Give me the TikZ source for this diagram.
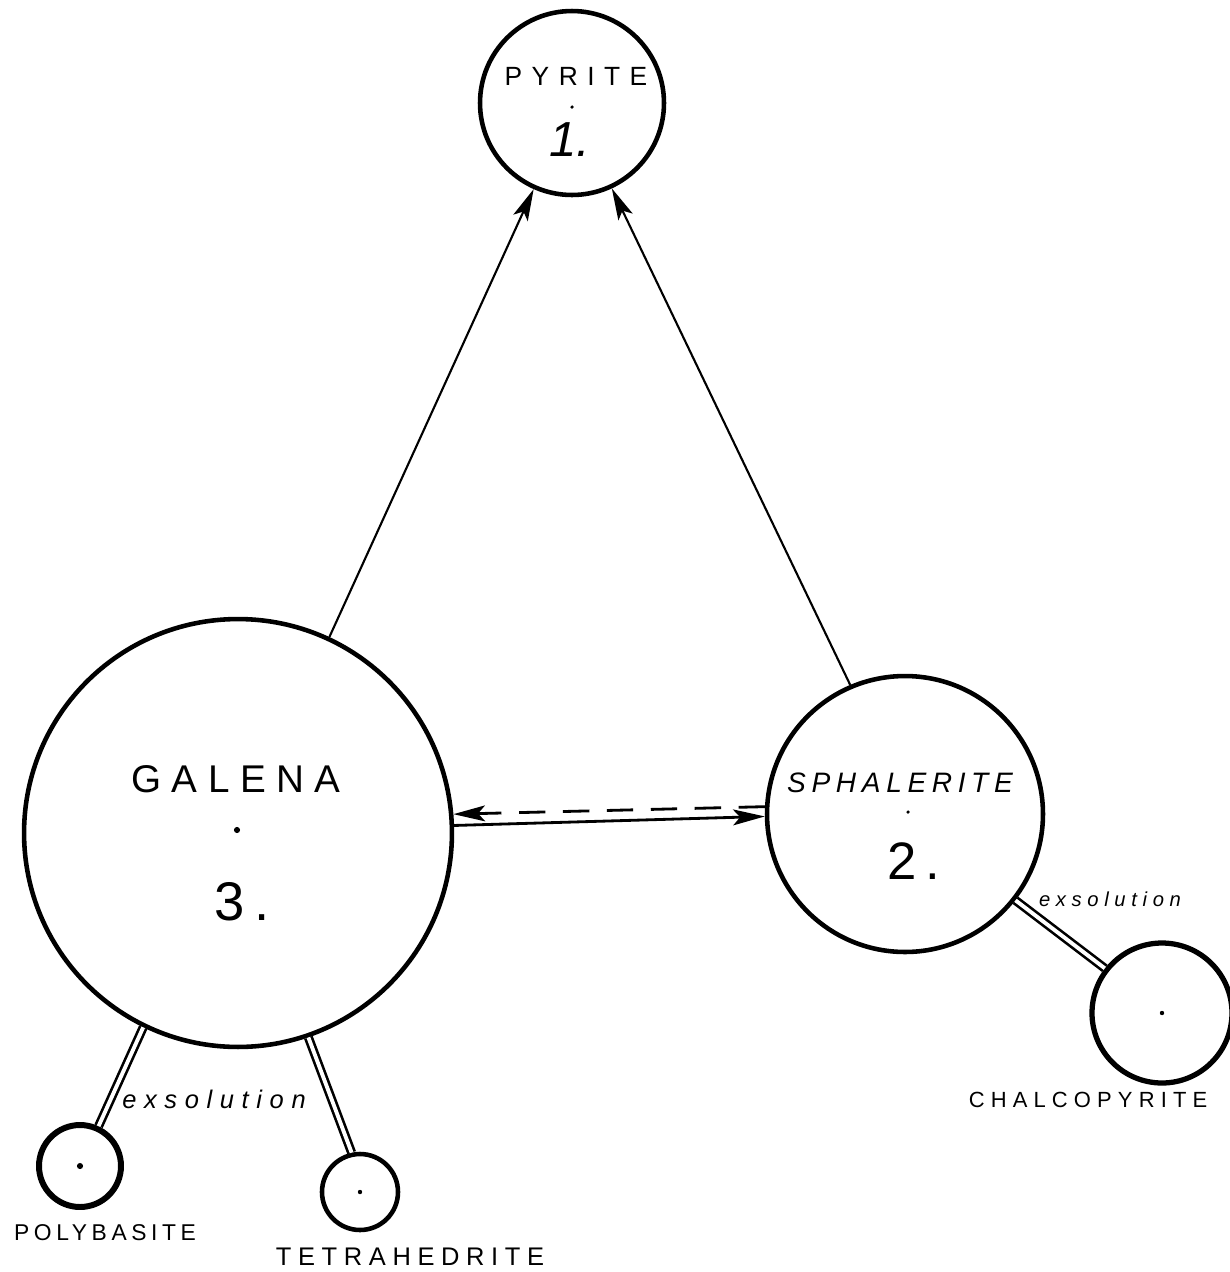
\documentclass[tikz,border=0pt]{standalone}
\usepackage{fontspec}
\setmainfont{Liberation Sans}
\usetikzlibrary{arrows.meta}
\newcommand{\mylbl}[3]{{\fontsize{#1pt}{#1pt}\selectfont\addfontfeature{LetterSpace=#2}#3}}
\begin{document}
\begin{tikzpicture}[x=0.02cm,y=-0.02cm,
  mineral/.style={circle, draw, line width=2.6pt, inner sep=0pt},
  conn/.style={line width=1.2pt, -{Stealth[length=18pt,width=9pt,inset=4pt]}},
  exs/.style={double, double distance=2.2pt, line width=1.5pt},
  txt/.style={inner sep=0pt, anchor=center},
  cdot/.style={circle, fill, inner sep=0pt, minimum size=3pt}]

\useasboundingbox[fill=white] (0,0) rectangle (1230,1272);

% minerals
\node[mineral, minimum size=3.68cm] (pyrite) at (572,103) {};
\node[mineral, minimum size=8.56cm] (galena) at (238,833) {};
\node[mineral, minimum size=5.52cm] (sphal) at (905,814) {};
\node[mineral, minimum size=2.8cm, line width=3pt] (chalco) at (1162,1013) {};
\node[mineral, minimum size=1.64cm, line width=3.4pt] (poly) at (80,1166) {};
\node[mineral, minimum size=1.52cm] (tetra) at (360,1192) {};

% centre dots
\node[cdot, minimum size=2pt] (pyd) at (572,107) {};
\node[cdot, minimum size=3.5pt] (gad) at (237,830) {};
\node[cdot, minimum size=2pt] (spd) at (908,812) {};
\node[cdot, minimum size=2.5pt] (chd) at (1162,1013) {};
\node[cdot, minimum size=3.5pt] (pod) at (80,1166) {};
\node[cdot, minimum size=2.5pt] (ted) at (360,1192) {};

% connectors
\draw[conn] (galena.65.8) -- (pyrite.246);
\draw[conn] (sphal.113.9) -- (pyrite.295);
\draw[conn, line width=1.6pt] (galena.2.6) -- (sphal.181.7);
\draw[conn, line width=1.6pt, dash pattern=on 15pt off 10pt] (sphal.177.5) -- (galena.5.6);

% exsolution links
\draw[exs] (galena.244.5) -- (poly.65.9);
\draw[exs] (galena.289.4) -- (tetra.102.9);
\draw[exs] (sphal.-38) -- (chalco.142.7);

% labels
\node[txt] (pyT) at (576,76) {\mylbl{15}{36}{PYRITE}};
\node[txt] (pyN) at (570,140) {{\fontsize{28pt}{28pt}\selectfont\itshape 1.}};
\node[txt] (gaT) at (236,779) {\mylbl{22}{27}{GALENA}};
\node[txt] (gaN) at (242,902) {{\fontsize{31pt}{31pt}\selectfont 3\,.}};
\node[txt] (spT) at (900,783) {\mylbl{16}{20}{\itshape SPHALERITE}};
\node[txt] (spN) at (914,861) {{\fontsize{30pt}{30pt}\selectfont 2\,.}};
\node[txt] (ex1) at (214,1099) {\mylbl{14.5}{30}{\itshape exsolution}};
\node[txt] (ex2) at (1110,899) {\mylbl{11.5}{28}{\itshape exsolution}};
\node[txt] (chT) at (1088,1100) {\mylbl{12.5}{28}{CHALCOPYRITE}};
\node[txt] (poT) at (105,1233) {\mylbl{13}{20}{POLYBASITE}};
\node[txt] (teT) at (410,1257) {\mylbl{14.5}{26}{TETRAHEDRITE}};
\end{tikzpicture}
\end{document}
